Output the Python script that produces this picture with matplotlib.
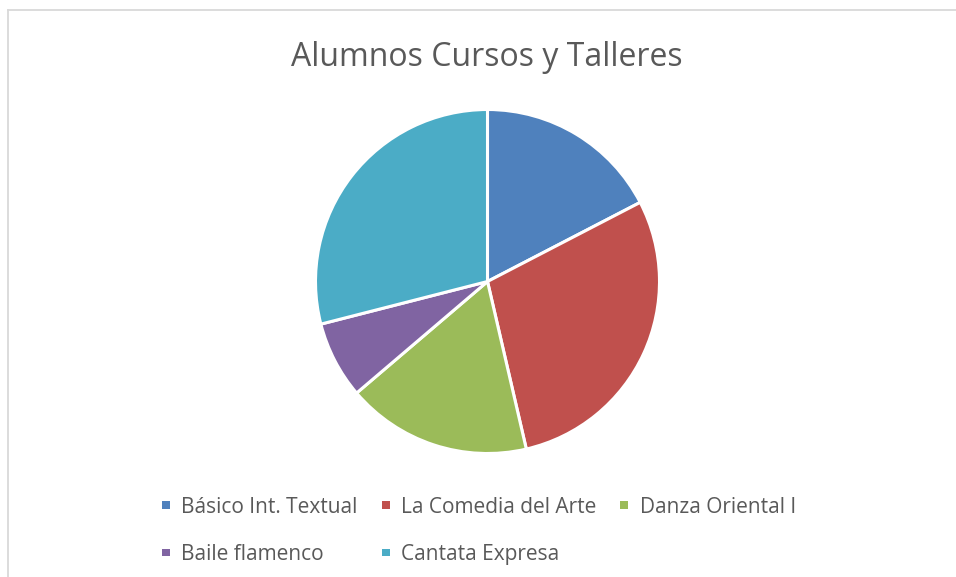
import matplotlib
matplotlib.use("Agg")
import matplotlib.pyplot as plt
from matplotlib.patches import Patch
from matplotlib.lines import Line2D

categories = ["Básico Int. Textual", "La Comedia del Arte", "Danza Oriental I",
              "Baile flamenco", "Cantata Expresa"]
values = [12, 20, 12, 5, 20]
colors = ["#4F81BD", "#C0504D", "#9BBB59", "#8064A2", "#4BACC6"]
title = "Alumnos Cursos y Talleres"

plt.rcParams['font.family'] = ['Open Sans', 'DejaVu Sans']
W, H = 956, 577
fig = plt.figure(figsize=(W / 100, H / 100), dpi=100)
fig.patch.set_facecolor("white")

# border (top and left visible)
fig.add_artist(Line2D([7.5 / W, 7.5 / W], [0, 1 - 9.5 / H], color="#D9D9D9", lw=1.3))
fig.add_artist(Line2D([7.5 / W, 1], [1 - 9.5 / H, 1 - 9.5 / H], color="#D9D9D9", lw=1.3))

cx, cy, r = 487.5, 281.5, 172
ax = fig.add_axes([(cx - r) / W, (H - cy - r) / H, 2 * r / W, 2 * r / H])
ax.pie(values, colors=colors, startangle=90, counterclock=False, radius=1,
       wedgeprops=dict(edgecolor="white", linewidth=2.2))
ax.set_xlim(-1.0, 1.0)
ax.set_ylim(-1.0, 1.0)
ax.set_aspect("equal")
ax.axis("off")

fig.text(487 / W, 1 - 57 / H, title, ha="center", va="center",
         fontsize=23, color="#595959")

handles = [Patch(facecolor=c, edgecolor="none") for c in colors]
order = [0, 3, 1, 4, 2]
leg = fig.legend([handles[i] for i in order], [categories[i] for i in order],
                 ncol=3, loc="upper left", bbox_to_anchor=(162 / W, 1 - 497 / H),
                 frameon=False, fontsize=15, labelcolor="#595959",
                 handlelength=0.38, handleheight=0.21, handletextpad=0.55,
                 columnspacing=1.15, labelspacing=1.25, borderaxespad=0, borderpad=0)

fig.savefig("out.png", dpi=100)
